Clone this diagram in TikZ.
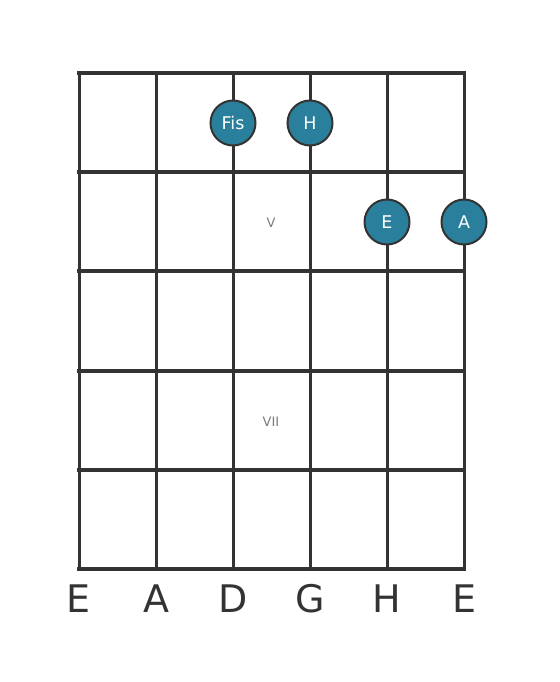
\documentclass[tikz,border=0pt]{standalone}
\usepackage{fontspec}
\setmainfont{DejaVu Sans}
\definecolor{ink}{HTML}{333333}
\definecolor{dotc}{HTML}{2A7F9C}
\definecolor{lbl}{HTML}{7A7A7A}
\tikzset{
  fret/.style={draw=ink, line width=4.5pt, line cap=rect},
  strg/.style={draw=ink, line width=3pt},
  dot/.style={circle, draw=ink, line width=2pt, fill=dotc, minimum size=45pt, inner sep=0pt, text=white, font=\fontsize{17.5}{17.5}\selectfont},
  fretpos/.style={text=lbl, font=\fontsize{13}{13}\selectfont},
  sname/.style={text=ink, font=\fontsize{38}{38}\selectfont, anchor=base}
}
\begin{document}
\begin{tikzpicture}[x=1pt,y=-1pt]
\useasboundingbox (0,0) rectangle (559,682);
\foreach \i/\x in {1/79,2/156,3/233,4/310,5/387,6/464} {
  \coordinate (st\i) at (\x,73);
  \coordinate (sb\i) at (\x,569);
  \draw[strg] (st\i) -- (sb\i);
}
\foreach \j/\y in {0/73,1/172,2/271,3/371,4/470,5/569} {
  \coordinate (fl\j) at (79,\y);
  \coordinate (fr\j) at (464,\y);
  \draw[fret] (fl\j) -- (fr\j);
}
\node[fretpos] (p5) at (271,223) {V};
\node[fretpos] (p7) at (271,422) {VII};
\node[dot] (fis) at (233,123) {Fis};
\node[dot] (h) at (310,123) {H};
\node[dot] (e) at (387,222) {E};
\node[dot] (a) at (464,222) {A};
\node[sname] (n1) at (79,612) {E};
\node[sname] (n2) at (156,612) {A};
\node[sname] (n3) at (233,612) {D};
\node[sname] (n4) at (310,612) {G};
\node[sname] (n5) at (387,612) {H};
\node[sname] (n6) at (464,612) {E};
\end{tikzpicture}
\end{document}
